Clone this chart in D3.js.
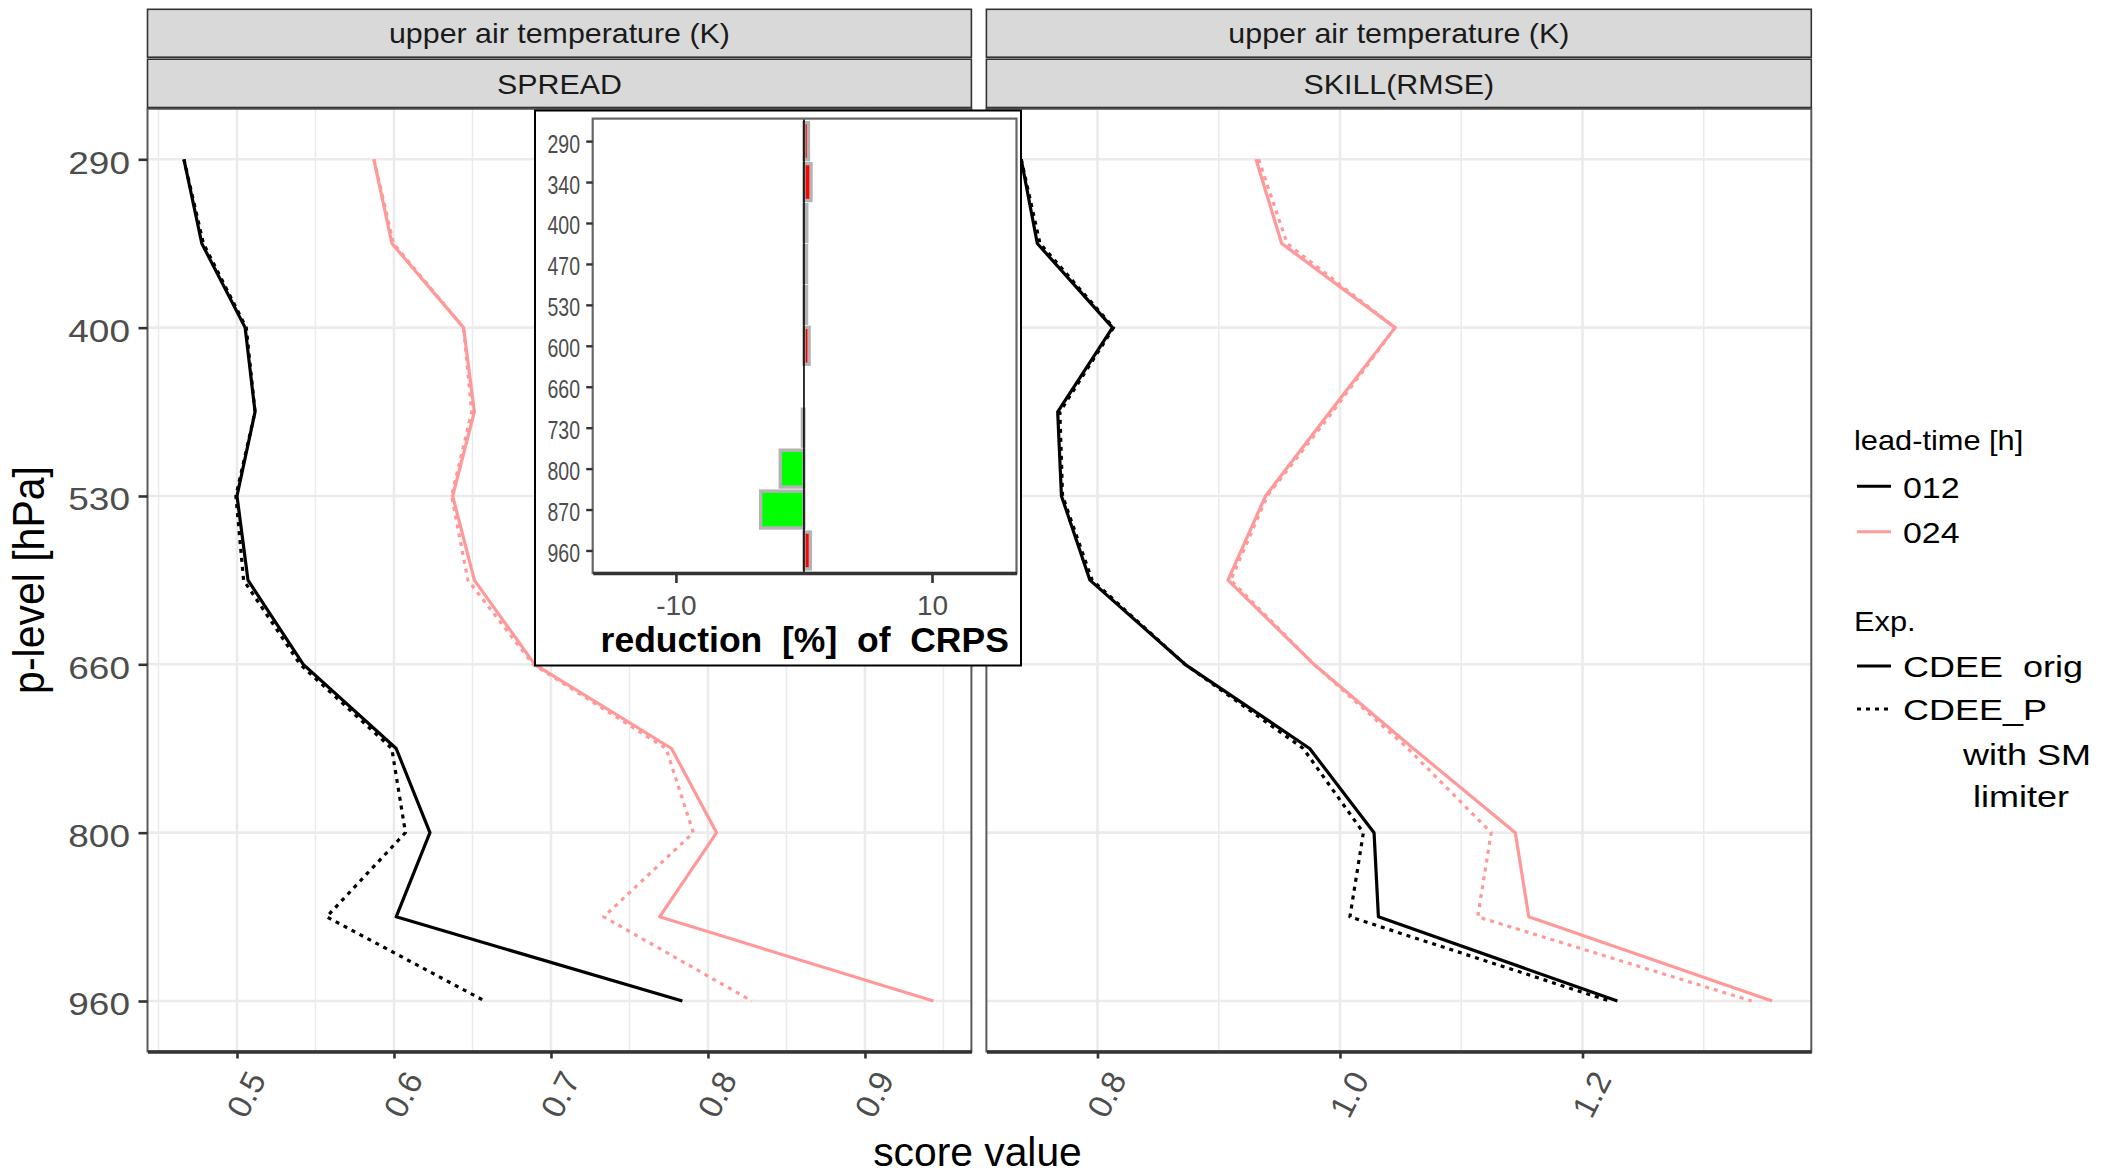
<!DOCTYPE html>
<html><head><meta charset="utf-8">
<script src="https://cdn.jsdelivr.net/npm/d3@7"></script>
<style>
body{margin:0;background:#fff}
svg{display:block}
text{font-family:"Liberation Sans",Arial,Helvetica,sans-serif}
</style>
</head><body>
<svg id="c" width="2103" height="1175"></svg>
<script>
// ---------------- data ----------------
const levels = ["290","340","400","470","530","600","660","730","800","870","960"];
const levelTicks = ["290","400","530","660","800","960"];
const stripTop = "upper air temperature (K)";
const scoreNames = ["SPREAD","SKILL(RMSE)"];
const spreadTicks = [0.5,0.6,0.7,0.8,0.9];
const spreadMinor = [0.45,0.55,0.65,0.75,0.85,0.95];
const skillTicks = [0.8,1.0,1.2];
const skillMinor = [0.9,1.1,1.3];
const leadTimes = ["012","024"];
const expNames = ["CDEE  orig","CDEE_P"];
const expExtraLines = ["      with SM","       limiter"];

// SPREAD
const spread012orig = [0.4662,0.4776,0.5052,0.5115,0.5000,0.5070,0.5422,0.6014,0.6229,0.6014,0.7837];
const spread012P    = [0.4662,0.4786,0.5059,0.5115,0.4993,0.5042,0.5402,0.5986,0.6073,0.5571,0.6578];
const spread024orig = [0.5872,0.5987,0.6443,0.6512,0.6374,0.6512,0.6896,0.7768,0.8055,0.7692,0.9436];
const spread024P    = [0.5872,0.5997,0.6443,0.6495,0.6367,0.6471,0.6886,0.7733,0.7907,0.7336,0.8280];
// SKILL (RMSE)
const skill012orig = [0.7371,0.7504,0.8124,0.7672,0.7703,0.7938,0.8722,0.9750,1.0281,1.0317,1.2288];
const skill012P    = [0.7371,0.7526,0.8133,0.7690,0.7712,0.7956,0.8722,0.9697,1.0193,1.0082,1.2221];
const skill024orig = [0.9307,0.9519,1.0454,0.9918,0.9386,0.9076,0.9785,1.0605,1.1446,1.1557,1.3564];
const skill024P    = [0.9329,0.9564,1.0454,0.9940,0.9400,0.9099,0.9785,1.0560,1.1247,1.1136,1.3395];
// inset: reduction [%] of CRPS
const crpsReduction = [0.35,0.55,0.22,0.2,0.2,0.4,0,-0.12,-1.85,-3.38,0.5];
const insetTicks = [-10,10];
const insetTitle = "reduction  [%]  of  CRPS";

// ---------------- styles ----------------
const leadColor = {"012":"#000000","024":"#ff9999"};
const expDash = [null,"4 5"];
const GRID = "#ebebeb", TICKTXT = "#4d4d4d", AX = "#333333";

const svg = d3.select("#c");

function addText(parent, s, x, y, o) {
  o = o || {};
  const t = parent.append("text")
    .attr("transform", `translate(${x},${y}) scale(${o.sx||1},1)` + (o.rot ? ` rotate(${o.rot})` : ""))
    .attr("font-size", o.size)
    .attr("fill", o.fill || "#000")
    .attr("text-anchor", o.anchor || "start")
    .attr("font-weight", o.weight || "normal")
    .attr("xml:space", "preserve")
    .style("white-space", "pre")
    .text(s);
  return t;
}

// ---------------- layout ----------------
const panelTop = 108.8, panelBottom = 1051.5;
const y = d3.scalePoint().domain(levels).range([panelTop, panelBottom]).padding(0.6);

const panels = [
  {name: scoreNames[0], x0:147.5, x1:971.4, domain:[0.4430,0.9678], major:spreadTicks, minor:spreadMinor,
   series:[{lead:"012",exp:1,v:spread012P},{lead:"012",exp:0,v:spread012orig},
           {lead:"024",exp:1,v:spread024P},{lead:"024",exp:0,v:spread024orig}]},
  {name: scoreNames[1], x0:986.4, x1:1811.3, domain:[0.7084,1.3887], major:skillTicks, minor:skillMinor,
   series:[{lead:"012",exp:1,v:skill012P},{lead:"012",exp:0,v:skill012orig},
           {lead:"024",exp:1,v:skill024P},{lead:"024",exp:0,v:skill024orig}]}
];

panels.forEach((p, pi) => {
  const x = d3.scaleLinear().domain(p.domain).range([p.x0, p.x1]);
  const g = svg.append("g");
  g.append("rect").attr("x",p.x0).attr("y",panelTop).attr("width",p.x1-p.x0).attr("height",panelBottom-panelTop).attr("fill","#fff");
  // grid
  g.selectAll(".hmin").data(p.minor).join("line")
    .attr("x1",d=>x(d)).attr("x2",d=>x(d)).attr("y1",panelTop).attr("y2",panelBottom)
    .attr("stroke",GRID).attr("stroke-width",1.5);
  g.selectAll(".hmaj").data(p.major).join("line")
    .attr("x1",d=>x(d)).attr("x2",d=>x(d)).attr("y1",panelTop).attr("y2",panelBottom)
    .attr("stroke",GRID).attr("stroke-width",2.6);
  g.selectAll(".vmaj").data(levelTicks).join("line")
    .attr("x1",p.x0).attr("x2",p.x1).attr("y1",d=>y(d)).attr("y2",d=>y(d))
    .attr("stroke",GRID).attr("stroke-width",2.6);
  // lines
  const line = d3.line().x(d=>x(d)).y((d,i)=>y(levels[i]));
  p.series.forEach(s => {
    g.append("path").attr("d", line(s.v)).attr("fill","none")
      .attr("stroke", leadColor[s.lead]).attr("stroke-width", 3.2)
      .attr("stroke-dasharray", expDash[s.exp]).attr("stroke-linejoin","round");
  });
  // border
  g.append("rect").attr("x",p.x0).attr("y",panelTop).attr("width",p.x1-p.x0).attr("height",panelBottom-panelTop)
    .attr("fill","none").attr("stroke","#5a5a5a").attr("stroke-width",2);
  // bottom axis
  const gx = svg.append("g").attr("transform",`translate(0,${panelBottom})`)
    .call(d3.axisBottom(x).tickValues(p.major).tickSize(7).tickSizeOuter(0).tickFormat(d3.format(".1f")));
  gx.attr("font-family",null).attr("font-size",null);
  gx.select(".domain").attr("stroke",AX).attr("stroke-width",3.6);
  gx.selectAll(".tick line").attr("stroke",AX).attr("stroke-width",2.6);
  gx.selectAll(".tick text").attr("y",null).attr("dy","0.35em")
    .attr("transform","translate(19,22.5) rotate(-63)").attr("text-anchor","end")
    .attr("font-size",33).attr("fill",TICKTXT);
  // strips
  const cx = (p.x0+p.x1)/2;
  [[9.3,57.2,stripTop,43],[59.2,107.5,p.name,94]].forEach(([a,b,label,base]) => {
    svg.append("rect").attr("x",p.x0).attr("y",a).attr("width",p.x1-p.x0).attr("height",b-a)
      .attr("fill","#d9d9d9").attr("stroke",AX).attr("stroke-width",1.6);
    addText(svg, label, cx, base, {size:28, sx:1.085, anchor:"middle", fill:"#1a1a1a"});
  });
});

// y axis (left)
const gy = svg.append("g").attr("transform",`translate(${panels[0].x0},0)`)
  .call(d3.axisLeft(y).tickValues(levelTicks).tickSize(9).tickSizeOuter(0));
gy.attr("font-family",null).attr("font-size",null);
gy.select(".domain").remove();
gy.selectAll(".tick line").attr("stroke",AX).attr("stroke-width",2.6);
gy.selectAll(".tick text").attr("x",null).attr("dy",null)
  .attr("transform","translate(-17.5,14) scale(1.156,1)").attr("text-anchor","end")
  .attr("font-size",32).attr("fill",TICKTXT);

// axis titles
addText(svg, "p-level [hPa]", 44, 580, {size:41, sx:1.07, rot:-90, anchor:"middle"});
addText(svg, "score value", 977.5, 1166, {size:40, sx:1.02, anchor:"middle"});

// ---------------- inset ----------------
const ins = {ox0:535, oy0:110.5, ox1:1021, oy1:665.5, x0:592.7, x1:1016.5, y0:118.6, y1:573};
svg.append("rect").attr("x",ins.ox0).attr("y",ins.oy0).attr("width",ins.ox1-ins.ox0).attr("height",ins.oy1-ins.oy0)
  .attr("fill","#fff").attr("stroke","#000").attr("stroke-width",2);
const xi = d3.scaleLinear().domain([-16.5,16.6]).range([ins.x0, ins.x1]);
const yi = d3.scalePoint().domain(levels).range([ins.y0, ins.y1]).padding(0.55);
const bh = yi.step()*0.9;
const gi = svg.append("g");
gi.selectAll("rect.bar").data(crpsReduction).join("rect").attr("class","bar")
  .attr("x",d=>Math.min(xi(0),xi(d))).attr("width",d=>Math.abs(xi(d)-xi(0)))
  .attr("y",(d,i)=>yi(levels[i])-bh/2).attr("height",bh)
  .attr("fill",d=>d<0?"#00ff00":"#ff0000").attr("stroke","#b3b3b3").attr("stroke-width",3.4);
gi.append("line").attr("x1",xi(0)).attr("x2",xi(0)).attr("y1",ins.y0).attr("y2",ins.y1)
  .attr("stroke","#000").attr("stroke-width",1.6);
gi.append("rect").attr("x",ins.x0).attr("y",ins.y0).attr("width",ins.x1-ins.x0).attr("height",ins.y1-ins.y0)
  .attr("fill","none").attr("stroke","#666").attr("stroke-width",2.2);
const gix = svg.append("g").attr("transform",`translate(0,${ins.y1})`)
  .call(d3.axisBottom(xi).tickValues(insetTicks).tickSize(10).tickSizeOuter(0).tickFormat(d => String(d)));
gix.attr("font-family",null).attr("font-size",null);
gix.select(".domain").attr("stroke",AX).attr("stroke-width",3.6);
gix.selectAll(".tick line").attr("stroke",AX).attr("stroke-width",2.6);
gix.selectAll(".tick text").attr("y",42).attr("dy",null).attr("font-size",28).attr("fill",TICKTXT);
const giy = svg.append("g").attr("transform",`translate(${ins.x0},0)`)
  .call(d3.axisLeft(yi).tickSize(6.5).tickSizeOuter(0));
giy.attr("font-family",null).attr("font-size",null);
giy.select(".domain").remove();
giy.selectAll(".tick line").attr("stroke",AX).attr("stroke-width",2.4);
giy.selectAll(".tick text").attr("x",null).attr("dy",null)
  .attr("transform","translate(-12.7,11) scale(0.78,1)").attr("text-anchor","end")
  .attr("font-size",25).attr("fill",TICKTXT);
addText(svg, insetTitle, 804.7, 652, {size:35.5, anchor:"middle", weight:"bold"});

// ---------------- legend ----------------
const lg = svg.append("g");
addText(lg, "lead-time [h]", 1854, 450, {size:27, sx:1.14});
const leadBase = [497.7, 543.3];
leadTimes.forEach((l,i) => {
  lg.append("line").attr("x1",1857).attr("x2",1891).attr("y1",leadBase[i]-11.5).attr("y2",leadBase[i]-11.5)
    .attr("stroke",leadColor[l]).attr("stroke-width",3);
  addText(lg, l, 1903, leadBase[i], {size:29, sx:1.17});
});
addText(lg, "Exp.", 1854, 631, {size:27, sx:1.14});
const expBase = [677, 720];
expNames.forEach((e,i) => {
  lg.append("line").attr("x1",1857).attr("x2",1891).attr("y1",expBase[i]-11).attr("y2",expBase[i]-11)
    .attr("stroke","#000").attr("stroke-width",3).attr("stroke-dasharray",expDash[i]);
  addText(lg, e, 1903, expBase[i], {size:30, sx:1.2});
});
expExtraLines.forEach((e,i) => addText(lg, e, 1903, 765 + i*42, {size:30, sx:1.2}));
</script>
</body></html>
